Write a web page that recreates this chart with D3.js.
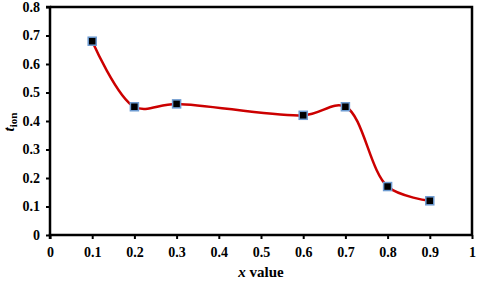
<!DOCTYPE html>
<html>
<head>
<meta charset="utf-8">
<script src="https://cdn.jsdelivr.net/npm/d3@7"></script>
<style>
  body { margin: 0; background: #fff; }
</style>
</head>
<body>
<svg id="chart" width="480" height="283"></svg>
<script>
var xValues = [0.1, 0.2, 0.3, 0.6, 0.7, 0.8, 0.9];
var tIon = [0.68, 0.45, 0.46, 0.42, 0.45, 0.17, 0.12];
var xTicks = [0, 0.1, 0.2, 0.3, 0.4, 0.5, 0.6, 0.7, 0.8, 0.9, 1];
var yTicks = [0, 0.1, 0.2, 0.3, 0.4, 0.5, 0.6, 0.7, 0.8];

var serif = "'Liberation Serif', 'Times New Roman', Times, serif";
var margin = {top: 7, right: 8, bottom: 48, left: 50};
var svg = d3.select("#chart");
var width = +svg.attr("width") - margin.left - margin.right;
var height = +svg.attr("height") - margin.top - margin.bottom;

var g = svg.append("g")
	.attr("transform", "translate(" + margin.left + "," + margin.top + ")");

var x = d3.scaleLinear().domain([0, 1]).range([0, width]);
var y = d3.scaleLinear().domain([0, 0.8]).range([height, 0]);

var fmt = function(d){ return d === 0 ? "0" : (d === 1 ? "1" : d3.format(".1f")(d)); };

// frame top and right
g.append("path")
	.attr("d", "M0,0H" + width + "V" + height)
	.attr("fill", "none")
	.attr("stroke", "#000")
	.attr("stroke-width", 2.5);

var xAxis = g.append("g")
	.attr("transform", "translate(0," + height + ")")
	.call(d3.axisBottom(x).tickValues(xTicks).tickFormat(fmt).tickSize(4).tickPadding(8));

var yAxis = g.append("g")
	.call(d3.axisLeft(y).tickValues(yTicks).tickFormat(fmt).tickSize(4).tickPadding(6));

[xAxis, yAxis].forEach(function(a){
	a.attr("font-family", null).attr("font-size", null);
	a.select(".domain").attr("stroke-width", 2.5);
	a.selectAll(".tick line").attr("stroke-width", 2);
	a.selectAll("text")
		.style("font-family", serif)
		.style("font-weight", "bold")
		.style("font-size", "14px")
		.attr("fill", "#000");
});
xAxis.select(".domain").attr("d", "M0,4V0H" + width);
yAxis.select(".domain").attr("d", "M-4,0H0V" + height);

var pts = xValues.map(function(d, i){ return [d, tIon[i]]; });

var line = d3.line()
	.x(function(d){ return x(d[0]); })
	.y(function(d){ return y(d[1]); })
	.curve(d3.curveCatmullRom.alpha(0.5));

g.append("path")
	.datum(pts)
	.attr("d", line)
	.attr("fill", "none")
	.attr("stroke", "#cc0000")
	.attr("stroke-width", 2.5);

g.selectAll(".marker")
	.data(pts)
	.enter().append("rect")
		.attr("class", "marker")
		.attr("x", function(d){ return x(d[0]) - 4; })
		.attr("y", function(d){ return y(d[1]) - 4; })
		.attr("width", 8)
		.attr("height", 8)
		.attr("fill", "#000")
		.attr("stroke", "#6d9bd1")
		.attr("stroke-width", 1.5);

// axis titles
var xt = svg.append("text")
	.attr("x", margin.left + width / 2)
	.attr("y", 277)
	.attr("text-anchor", "middle")
	.style("font-family", serif)
	.style("font-weight", "bold")
	.style("font-size", "15px");
xt.append("tspan").attr("font-style", "italic").text("x");
xt.append("tspan").text(" value");

var yt = svg.append("text")
	.attr("transform", "translate(14," + (margin.top + 115) + ") rotate(-90)")
	.attr("text-anchor", "middle")
	.style("font-family", serif)
	.style("font-weight", "bold")
	.style("font-size", "15px");
yt.append("tspan").attr("font-style", "italic").text("t");
yt.append("tspan").attr("font-size", 11).attr("dy", 3).text("ion");
</script>
</body>
</html>
